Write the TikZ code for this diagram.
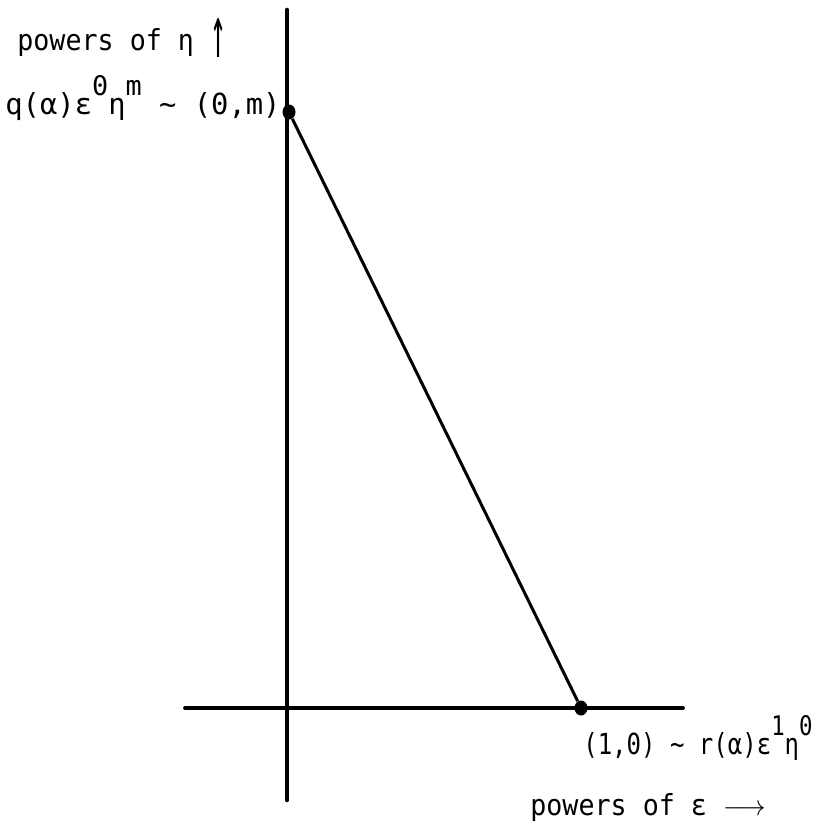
\documentclass[tikz,border=0pt]{standalone}
\usepackage{fontspec}
\setmainfont{DejaVu Sans Mono}
\usetikzlibrary{positioning,shapes.geometric}
% raised exponent, typewriter style
\newcommand{\up}[1]{\raisebox{9.5pt}{\fontsize{13.5}{14}\selectfont #1}}
\begin{document}
\begin{tikzpicture}[x=0.5pt,y=-0.5pt,
  axis/.style={line width=2.3pt,black,line cap=round},
  edge/.style={line width=1.5pt,black},
  dot/.style={ellipse,fill=black,inner sep=0pt,minimum width=6.5pt,minimum height=7.5pt},
  lbl/.style={font=\fontsize{14.5}{17}\selectfont,inner sep=0pt,anchor=base west,xscale=0.92,transform shape}]
\useasboundingbox (0,0) rectangle (819,830);
% axes
\coordinate (ytop) at (287,10);
\coordinate (ybot) at (287,800);
\coordinate (xleft) at (185,708);
\coordinate (xright) at (683,708);
\draw[axis] (ybot) -- (ytop);
\draw[axis,line width=1.9pt] (xleft) -- (xright);
% the two points and the segment
\node[dot] (pm) at (289,112) {};
\node[dot] (p1) at (581,708) {};
\draw[edge] (pm) -- (p1);
% labels
\node[lbl] (ylab) at (17,50) {powers of η \raisebox{-4pt}{\scalebox{1}[2.5]{↑}}};
\node[lbl,xscale=1.08] (qlab) at (5,114) {q(α)ε\up{0}η\up{m} \char`~{} (0,m)};
\node[lbl,xscale=0.9] (rlab) at (583,754) {(1,0) \char`~{} r(α)ε\up{1}η\up{0}};
\node[lbl] (xlab) at (530,815) {powers of ε $\longrightarrow$};
\end{tikzpicture}
\end{document}
